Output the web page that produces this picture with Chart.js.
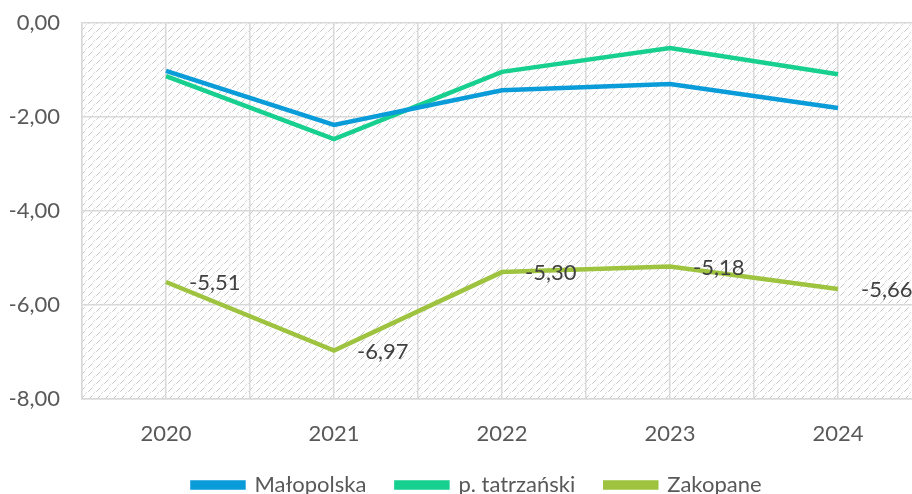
<!DOCTYPE html>
<html>
<head>
<meta charset="utf-8">
<script src="https://cdn.jsdelivr.net/npm/chart.js@4.4.1/dist/chart.umd.min.js"></script>
<style>
  html, body { margin: 0; padding: 0; background: #fff; overflow: hidden; }
  #wrap { position: relative; width: 956px; height: 494px; }
</style>
</head>
<body>
<div id="wrap"><canvas id="chart"></canvas></div>
<script>
// Years on the x axis
const years = ['2020', '2021', '2022', '2023', '2024'];

// Series values
const malopolska = [-1.02, -2.17, -1.43, -1.30, -1.81];
const tatrzanski = [-1.13, -2.47, -1.04, -0.53, -1.09];
const zakopane = [-5.51, -6.97, -5.30, -5.18, -5.66];

// Y axis ticks
const yTicks = [0, -2, -4, -6, -8];

const FONT = 'Lato, "Open Sans", sans-serif';
const FSIZE = 22;

function fmt(v) {
    return v.toFixed(2).replace('.', ',');
}

function toPoints(arr) {
    return arr.map((v, i) => ({ x: i, y: v }));
}

// light grey dotted diagonal hatch used as plot background
function makePattern(ctx) {
    const tile = document.createElement('canvas');
    tile.width = 8;
    tile.height = 8;
    const t = tile.getContext('2d');
    t.fillStyle = '#ffffff';
    t.fillRect(0, 0, 8, 8);
    t.fillStyle = '#c4c4c4';
    [[1, 6], [2, 5], [3, 4]].forEach(p => t.fillRect(p[0], p[1], 1, 1));
    t.fillStyle = '#dbdbdb';
    [[5, 1], [6, 0], [0, 7], [4, 3]].forEach(p => t.fillRect(p[0], p[1], 1, 1));
    return ctx.createPattern(tile, 'repeat');
}

const hatchPlugin = {
    id: 'hatch',
    beforeDraw(chart) {
        const { ctx, chartArea } = chart;
        if (!chartArea) return;
        ctx.save();
        ctx.fillStyle = makePattern(ctx);
        ctx.fillRect(chartArea.left, chartArea.top,
            chartArea.right - chartArea.left, chartArea.bottom - chartArea.top);
        ctx.restore();
    }
};

// nudge the legend a little to the right, like the original
const legendShift = {
    id: 'legendShift',
    afterLayout(chart) {
        if (!chart.legend) return;
        chart.legend.left += 11;
        chart.legend.right += 11;
    }
};

// value labels on the Zakopane line, right of each point
const valueLabels = {
    id: 'valueLabels',
    afterDatasetsDraw(chart) {
        const { ctx } = chart;
        const meta = chart.getDatasetMeta(2);
        ctx.save();
        ctx.font = FSIZE + 'px ' + FONT;
        ctx.fillStyle = '#404040';
        ctx.textAlign = 'left';
        ctx.textBaseline = 'middle';
        meta.data.forEach((pt, i) => {
            ctx.fillText(fmt(zakopane[i]), pt.x + 23, pt.y + 1);
        });
        ctx.restore();
    }
};

function lineSet(label, data, color) {
    return {
        label,
        data: toPoints(data),
        borderColor: color,
        backgroundColor: color,
        borderWidth: 4.5,
        pointRadius: 0,
        tension: 0
    };
}

new Chart(document.getElementById('chart'), {
    type: 'line',
    data: {
        datasets: [
            lineSet('Małopolska', malopolska, '#0a9bd9'),
            lineSet('p. tatrzański', tatrzanski, '#17d08f'),
            lineSet('Zakopane', zakopane, '#9ec33f')
        ]
    },
    options: {
        responsive: true,
        maintainAspectRatio: false,
        animation: false,
        layout: { padding: { top: 0, right: 34, left: 10, bottom: 0 } },
        plugins: {
            legend: {
                position: 'bottom',
                maxHeight: 50,
                labels: {
                    boxWidth: 51,
                    boxHeight: 5,
                    padding: 30,
                    color: '#595959',
                    font: { family: FONT, size: FSIZE }
                }
            },
            tooltip: { enabled: false }
        },
        scales: {
            x: {
                type: 'linear',
                min: -0.5,
                max: 4.5,
                afterBuildTicks(scale) {
                    const t = [];
                    for (let v = -0.5; v <= 4.5; v += 0.5) t.push({ value: v });
                    scale.ticks = t;
                },
                afterFit(scale) { scale.height = 45; },
                ticks: {
                    autoSkip: false,
                    maxRotation: 0,
                    padding: 22,
                    color: '#595959',
                    font: { family: FONT, size: FSIZE },
                    callback: v => Number.isInteger(v) ? years[v] : ''
                },
                grid: { color: '#d9d9d9', lineWidth: 1.5, drawTicks: false },
                border: { color: '#d9d9d9', width: 1.5 }
            },
            y: {
                min: -8,
                max: 0,
                afterBuildTicks(scale) {
                    scale.ticks = yTicks.map(v => ({ value: v }));
                },
                afterFit(scale) {
                    scale.width = 72;
                    scale.paddingTop = 23;
                    scale.paddingBottom = 0;
                },
                ticks: {
                    padding: 22,
                    color: '#595959',
                    font: { family: FONT, size: FSIZE },
                    callback: v => fmt(v)
                },
                grid: { color: '#d9d9d9', lineWidth: 1.5, drawTicks: false },
                border: { color: '#d9d9d9', width: 1.5 }
            }
        }
    },
    plugins: [hatchPlugin, legendShift, valueLabels]
});
</script>
</body>
</html>
